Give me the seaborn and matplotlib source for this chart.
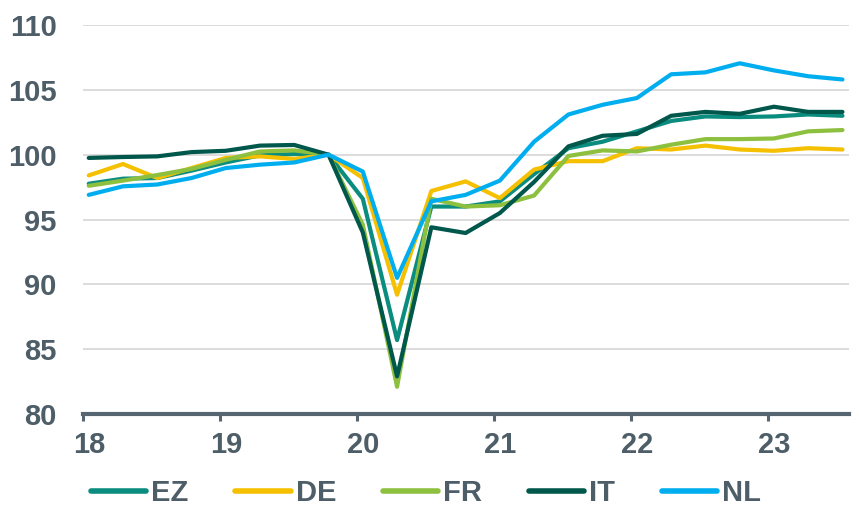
import numpy as np
import pandas as pd
import matplotlib
matplotlib.use("Agg")
import matplotlib.pyplot as plt
import matplotlib.transforms as mtransforms
import seaborn as sns

# quarterly index, 2019Q4 = 100, 2018Q1 .. 2023Q3
quarters = pd.period_range("2018Q1", "2023Q3", freq="Q")
ez = [97.76, 98.15, 98.2, 98.77, 99.4, 99.95, 100.05, 100.0, 96.6, 85.7, 96.0, 96.0,
      96.4, 98.5, 100.5, 101.0, 101.8, 102.6, 102.95, 102.9, 102.95, 103.1, 103.0]
de = [98.4, 99.28, 98.2, 98.97, 99.75, 99.87, 99.67, 100.0, 98.2, 89.2, 97.2, 97.94,
      96.65, 98.85, 99.5, 99.5, 100.5, 100.4, 100.7, 100.4, 100.3, 100.5, 100.4]
fr = [97.6, 98.0, 98.43, 98.9, 99.6, 100.25, 100.33, 100.0, 94.6, 82.1, 96.6, 96.0,
      96.1, 96.85, 99.9, 100.33, 100.25, 100.77, 101.2, 101.2, 101.25, 101.8, 101.9]
it = [99.75, 99.82, 99.87, 100.2, 100.3, 100.7, 100.75, 100.0, 94.0, 82.9, 94.4, 93.96,
      95.5, 97.9, 100.64, 101.46, 101.6, 103.0, 103.3, 103.15, 103.7, 103.3, 103.3]
nl = [96.9, 97.56, 97.7, 98.2, 98.97, 99.23, 99.4, 100.0, 98.7, 90.5, 96.4, 96.9,
      98.0, 101.0, 103.1, 103.85, 104.37, 106.2, 106.35, 107.05, 106.5, 106.05, 105.8]

countries = ["EZ", "DE", "FR", "IT", "NL"]
colors = {"EZ": "#0A8C7F", "DE": "#F5C000", "FR": "#8DC03F", "IT": "#00574B", "NL": "#00AEEF"}
year_ticks = [18, 19, 20, 21, 22, 23]

TEXT = "#4E5E68"

# x position in years since 2000 (points sit a couple of weeks into each quarter)
xpos = np.array([q.year - 2000 + (q.quarter - 1) / 4 + 0.042 for q in quarters])
df = pd.DataFrame({"x": xpos, "EZ": ez, "DE": de, "FR": fr, "IT": it, "NL": nl})
df_long = df.melt(id_vars="x", var_name="country", value_name="index")

sns.set_style("white")
plt.rcParams["font.family"] = ["Liberation Sans", "DejaVu Sans"]
plt.rcParams["font.weight"] = "bold"

fig = plt.figure(figsize=(8.59, 5.28), dpi=100)
ax = fig.add_axes([0.0966, 0.2159, 0.8918, 0.7367])

sns.lineplot(data=df_long, x="x", y="index", hue="country", hue_order=countries,
             palette=colors, linewidth=3.0, ax=ax, legend=True)

ax.set_xlim(18, 23.59)
ax.set_ylim(80, 110)
ax.set_yticks(range(80, 111, 5))
ax.yaxis.grid(True, color="#D9D9D9", linewidth=1.3)
ax.set_axisbelow(True)
ax.set_xlabel("")
ax.set_ylabel("")

for side in ["top", "right", "left"]:
    ax.spines[side].set_visible(False)
ax.spines["bottom"].set_color("#56656F")
ax.spines["bottom"].set_linewidth(3)
ax.spines["bottom"].set_zorder(5)

ax.set_xticks(year_ticks)
ax.set_xticklabels([str(y) for y in year_ticks])
ax.tick_params(axis="x", length=5, width=2.2, color="#56656F", pad=7,
               labelsize=21, labelcolor=TEXT, direction="out", bottom=True)
ax.tick_params(axis="y", length=0, pad=19, labelsize=21, labelcolor=TEXT)

shift = mtransforms.ScaledTranslation(6 / 100, 0, fig.dpi_scale_trans)
for lab in ax.get_xticklabels():
    lab.set_transform(lab.get_transform() + shift)

handles, labels = ax.get_legend_handles_labels()
ax.get_legend().remove()
leg = fig.legend(handles, labels, loc="center", bbox_to_anchor=(426 / 859, 1 - 493 / 528),
                 ncol=5, frameon=False, fontsize=21, handlelength=1.9, handletextpad=0.17,
                 columnspacing=1.6, borderpad=0.2)
for t in leg.get_texts():
    t.set_color(TEXT)
for h in leg.get_lines():
    h.set_linewidth(4)
    h.set_solid_capstyle("round")

fig.savefig("out.png", dpi=100)
